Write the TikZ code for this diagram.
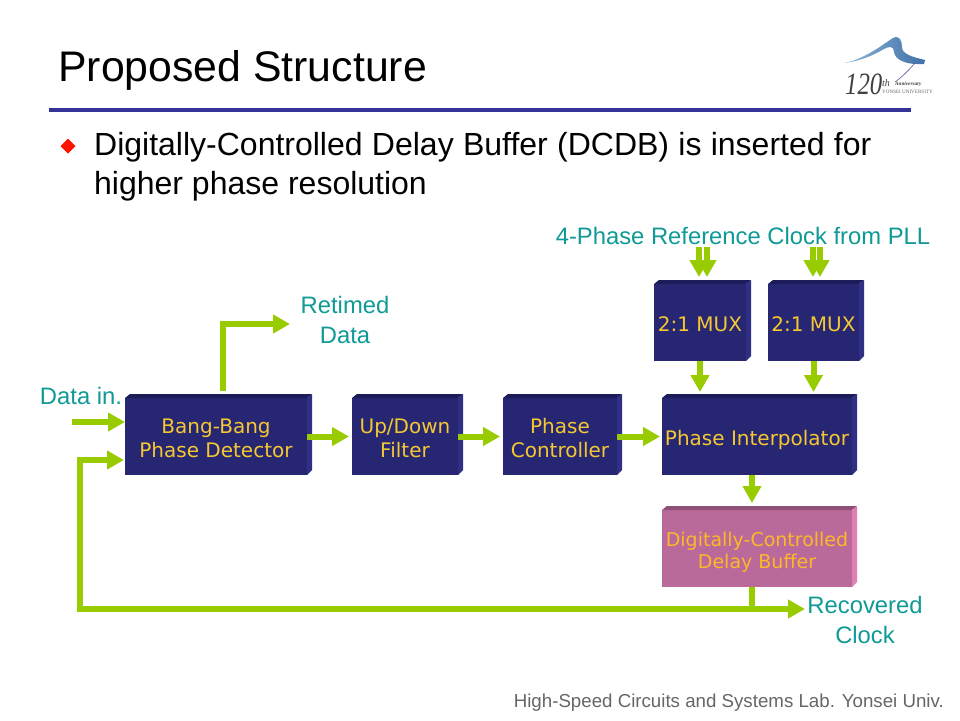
\documentclass[tikz,border=0pt]{standalone}
\usepackage{fontspec}
\setmainfont{Liberation Sans}
\newfontfamily\boxfont{DejaVu Sans}
\newfontfamily\logofont{Liberation Serif}
\usetikzlibrary{arrows.meta,calc}
\definecolor{navyfront}{HTML}{262673}
\definecolor{navytop}{HTML}{1C1C58}
\definecolor{navyside}{HTML}{2F3085}
\definecolor{pinkfront}{HTML}{B96A9A}
\definecolor{pinktop}{HTML}{8F5078}
\definecolor{pinkside}{HTML}{E080B0}
\definecolor{boxtext}{HTML}{F5C832}
\definecolor{pinktext}{HTML}{FDB827}
\definecolor{teal}{HTML}{0F9A96}
\definecolor{arrowgreen}{HTML}{99CC00}
\definecolor{rulecol}{HTML}{333399}
\definecolor{swooshlight}{HTML}{8FB8D8}
\definecolor{swooshdark}{HTML}{3F6FA8}
\tikzset{
  blockbox/.style={inner sep=0pt,outer sep=0pt,align=center,font=\boxfont\fontsize{20}{24}\selectfont},
  navybox/.style={blockbox,fill=navyfront,text=boxtext},
  pinkbox/.style={blockbox,fill=pinkfront,text=pinktext},
  conn/.style={draw=arrowgreen,line width=6pt},
  arr/.style={conn,-{Triangle[width=18pt,length=17pt]}},
  label/.style={inner sep=0pt,align=center,text=teal,font=\fontsize{23.8}{30}\selectfont},
  logotext/.style={anchor=west,inner sep=0pt,text=black!75},
}
\newcommand{\bevel}[3]{%
  \fill[#2] (#1.north west) -- ++(5,-4) -- ($(#1.north east)+(5,-4)$) -- (#1.north east) -- cycle;
  \fill[#3] (#1.north east) -- ++(5,-4) -- ($(#1.south east)+(5,-5)$) -- (#1.south east) -- cycle;
}
\newcommand{\blocktext}[1]{\raisebox{-9pt}[0pt][0pt]{\begin{tabular}{@{}c@{}}#1\end{tabular}}}
\begin{document}
\begin{tikzpicture}[x=1pt,y=-1pt]
\useasboundingbox (0,0) rectangle (960,720);
\fill[white] (0,0) rectangle (960,720);
% heading
\node[anchor=west,inner sep=0pt,font=\fontsize{42.8}{48}\selectfont] (title) at (58,70) {Proposed Structure};
\draw[rulecol,line width=4pt] (49,110) -- (911,110);
\fill[red!85!orange] (68,138.5) -- (75.5,146) -- (68,153.5) -- (60.5,146) -- cycle;
\node[anchor=west,inner sep=0pt,font=\fontsize{32}{39}\selectfont] (l1) at (94,147) {\spaceskip=9.3pt Digitally-Controlled Delay Buffer (DCDB) is inserted for};
\node[anchor=west,inner sep=0pt,font=\fontsize{32}{39}\selectfont] (l2) at (94,186) {higher phase resolution};
% logo
\shade[left color=swooshlight,right color=swooshdark]
  (844,63) .. controls (865,59) and (882,45) .. (893,38) .. controls (899,35) and (902,40) .. (902,47)
  .. controls (902,54) and (912,57) .. (925,60) -- (924,64) -- (917,64) .. controls (906,64) and (895,60) .. (894,52)
  .. controls (894,46) and (889,46) .. (884,49) .. controls (872,56) and (860,61) .. (844,63) -- cycle;
\draw[gray!70!blue,line width=0.6pt] (915,63) .. controls (908,71) and (902,77) .. (895,82);
\node[logotext,xscale=0.8,transform shape,font=\logofont\itshape\fontsize{31}{32}\selectfont] (l120) at (845,84) {120};
\node[logotext,font=\logofont\itshape\fontsize{10}{12}\selectfont] (lth) at (882,83) {th};
\node[logotext,font=\logofont\bfseries\itshape\fontsize{5.2}{6}\selectfont] (lann) at (895,84) {Anniversary};
\node[logotext,text=black!60,font=\logofont\fontsize{5.1}{6}\selectfont] (luni) at (882,91.5) {YONSEI UNIVERSITY};
% blocks
\node[navybox,minimum width=182pt,minimum height=77pt] (bb) at (216,436.5) {\blocktext{Bang-Bang\\Phase Detector}};
\bevel{bb}{navytop}{navyside}
\node[navybox,minimum width=106pt,minimum height=77pt] (ud) at (405,436.5) {\blocktext{Up/Down\\Filter}};
\bevel{ud}{navytop}{navyside}
\node[navybox,minimum width=114pt,minimum height=77pt] (pc) at (560,436.5) {\blocktext{Phase\\Controller}};
\bevel{pc}{navytop}{navyside}
\node[navybox,minimum width=190pt,minimum height=77pt] (pi) at (757,436.5) {\blocktext{Phase Interpolator}};
\bevel{pi}{navytop}{navyside}
\node[navybox,minimum width=92pt,minimum height=77pt] (m1) at (700,322.5) {\blocktext{2:1 MUX}};
\bevel{m1}{navytop}{navyside}
\node[navybox,minimum width=91pt,minimum height=77pt] (m2) at (813.5,322.5) {\blocktext{2:1 MUX}};
\bevel{m2}{navytop}{navyside}
\node[pinkbox,minimum width=190pt,minimum height=77pt,font=\boxfont\fontsize{19}{22}\selectfont] (dc) at (757,548.5) {\blocktext{Digitally-Controlled\\Delay Buffer}};
\bevel{dc}{pinktop}{pinkside}
% labels
\node[label] (lref) at (743,236) {4-Phase Reference Clock from PLL};
\node[label] (lret) at (345,320) {Retimed\\Data};
\node[label] (ldin) at (81,396) {Data in.};
\node[label] (lrec) at (865,620) {Recovered\\Clock};
\node[anchor=east,inner sep=0pt,text=black!60,font=\fontsize{18.7}{22}\selectfont] (foot) at (944,703) {High-Speed Circuits and Systems Lab. Yonsei Univ.};
% connector ends
\coordinate (din) at (72,422);
\coordinate (fb) at (80,609);
\coordinate (ret) at (223,391);
\coordinate (r1) at (699,247);
\coordinate (r2) at (707,247);
\coordinate (r3) at (813,247);
\coordinate (r4) at (820,247);
\coordinate (tap) at ([xshift=-5pt]dc.south);
\coordinate (join) at (tap |- fb);
% connectors
\draw[arr] (din) -- (din -| bb.west);
\draw[arr,shorten >=1pt] (join) -- (fb) -- (80,460) -- (bb.west |- 0,460);
\draw[arr] (ret) -- (ret |- 0,324) -- (290,324);
\draw[arr,shorten >=3pt] (bb.east) -- (ud.west);
\draw[arr,shorten >=3pt] (ud.east) -- (pc.west);
\draw[arr,shorten >=2pt] (pc.east) -- (pi.west);
\draw[arr,shorten >=7pt] (r1) -- (r1 |- m1.north);
\draw[arr,shorten >=7pt] (r2) -- (r2 |- m1.north);
\draw[arr,shorten >=7pt] (r3) -- (r3 |- m2.north);
\draw[arr,shorten >=7pt] (r4) -- (r4 |- m2.north);
\draw[arr,shorten >=6pt] (m1.south) -- (m1.south |- pi.north);
\draw[arr,shorten >=6pt] (m2.south) -- (m2.south |- pi.north);
\draw[arr,shorten >=7pt] ([xshift=-5pt]pi.south) -- ([xshift=-5pt]dc.north);
\draw[conn] (tap) -- (join);
\draw[arr] (join) -- (805,609);
\end{tikzpicture}
\end{document}
